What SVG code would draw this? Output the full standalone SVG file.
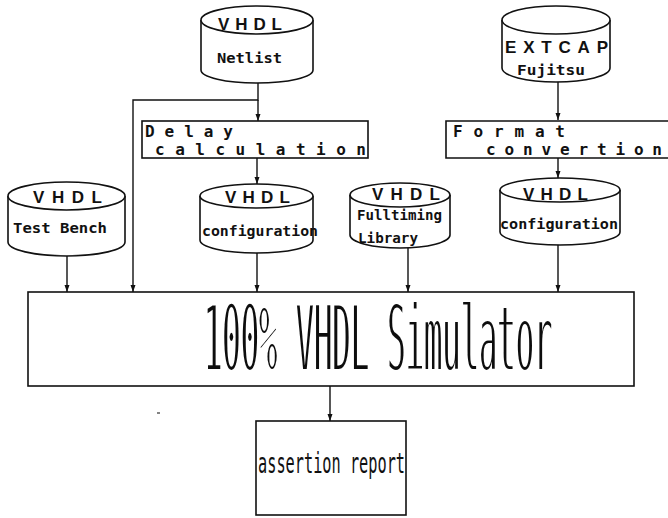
<svg xmlns="http://www.w3.org/2000/svg" width="668" height="518" viewBox="0 0 668 518">
<style>
.shape{fill:#fff;stroke:#111;stroke-width:1.6}
.line{fill:none;stroke:#111;stroke-width:1.4}
.hd{font-family:"Liberation Sans",Arial,sans-serif;font-weight:bold;font-size:17px;fill:#111}
.lb{font-family:"DejaVu Sans Mono","Liberation Mono",monospace;font-weight:bold;font-size:14px;fill:#111}
.mono{font-family:"DejaVu Sans Mono","Liberation Mono",monospace;font-weight:bold;font-size:16px;fill:#111}
.big{font-family:"DejaVu Sans Mono","Liberation Mono",monospace;font-size:92px;fill:#111}
.rep{font-family:"DejaVu Sans Mono","Liberation Mono",monospace;font-size:28px;fill:#111}
</style>
<defs>
<marker id="ah" markerWidth="8" markerHeight="8" refX="7" refY="4" orient="auto" markerUnits="userSpaceOnUse">
<path d="M0,1.5 L7,4 L0,6.5 Z" fill="#111"/>
</marker>
<filter id="thin" x="-5%" y="-20%" width="110%" height="140%">
<feMorphology operator="erode" radius="0 1.8"/>
</filter>
</defs>
<rect width="668" height="518" fill="#fff"/>

<g id="connectors">
<polyline class="line" points="258,83 258,100 133,100 133,292" marker-end="url(#ah)"/>
<line class="line" x1="258" y1="100" x2="258" y2="121" marker-end="url(#ah)"/>
<line class="line" x1="257" y1="158" x2="257" y2="184" marker-end="url(#ah)"/>
<line class="line" x1="257" y1="253" x2="257" y2="292" marker-end="url(#ah)"/>
<line class="line" x1="67" y1="256" x2="67" y2="292" marker-end="url(#ah)"/>
<line class="line" x1="408" y1="248" x2="408" y2="292" marker-end="url(#ah)"/>
<line class="line" x1="558" y1="82" x2="558" y2="120" marker-end="url(#ah)"/>
<line class="line" x1="558" y1="158" x2="558" y2="178" marker-end="url(#ah)"/>
<line class="line" x1="558" y1="245" x2="558" y2="292" marker-end="url(#ah)"/>
<line class="line" x1="330" y1="386" x2="330" y2="421" marker-end="url(#ah)"/>
</g>

<g id="netlist">
<path class="shape" d="M201,20 V70 A56,13 0 0 0 313,70 V20"/>
<ellipse class="shape" cx="257" cy="20" rx="56" ry="14"/>
<text class="hd" x="218" y="30" textLength="64" lengthAdjust="spacing">VHDL</text>
<text class="lb" x="217" y="63" textLength="65" lengthAdjust="spacingAndGlyphs">Netlist</text>
</g>

<g id="extcap">
<path class="shape" d="M502,20 V68 A54,14 0 0 0 610,68 V20"/>
<ellipse class="shape" cx="556" cy="20" rx="54" ry="14"/>
<text class="hd" x="505" y="53" font-size="18" textLength="103" lengthAdjust="spacing">EXTCAP</text>
<text class="lb" x="517" y="75" textLength="68" lengthAdjust="spacingAndGlyphs">Fujitsu</text>
</g>

<g id="delay">
<rect class="shape" x="142" y="121" width="226" height="37"/>
<text class="mono" x="145" y="137" textLength="88" lengthAdjust="spacing">Delay</text>
<text class="mono" x="155" y="155" textLength="211" lengthAdjust="spacing">calculation</text>
</g>

<g id="format">
<path class="shape" d="M668,121 H446 V158 H668"/>
<text class="mono" x="453" y="137" textLength="112" lengthAdjust="spacing">Format</text>
<text class="mono" x="486" y="155" textLength="176" lengthAdjust="spacing">convertion</text>
</g>

<g id="testbench">
<path class="shape" d="M8,196 V242 A58.5,14 0 0 0 125,242 V196"/>
<ellipse class="shape" cx="66.5" cy="196" rx="58.5" ry="14"/>
<text class="hd" x="33" y="203" textLength="69" lengthAdjust="spacing">VHDL</text>
<text class="lb" x="13" y="233" textLength="94" lengthAdjust="spacingAndGlyphs">Test Bench</text>
</g>

<g id="config1">
<path class="shape" d="M200,196 V240 A56.5,13 0 0 0 313,240 V196"/>
<ellipse class="shape" cx="256.5" cy="196" rx="56.5" ry="12"/>
<text class="hd" x="225" y="203" textLength="65" lengthAdjust="spacing">VHDL</text>
<text class="lb" x="202" y="236" textLength="116" lengthAdjust="spacingAndGlyphs">configuration</text>
</g>

<g id="fulltiming">
<path class="shape" d="M350,195 V235 A50,13 0 0 0 450,235 V195"/>
<ellipse class="shape" cx="400" cy="195" rx="50" ry="12"/>
<text class="hd" x="372" y="200" textLength="68" lengthAdjust="spacing">VHDL</text>
<text class="lb" x="357" y="220" font-size="13" textLength="85" lengthAdjust="spacingAndGlyphs">Fulltiming</text>
<text class="lb" x="358" y="243" textLength="60" lengthAdjust="spacingAndGlyphs">Library</text>
</g>

<g id="config2">
<path class="shape" d="M500,190 V232 A60,13 0 0 0 620,232 V190"/>
<ellipse class="shape" cx="560" cy="190" rx="60" ry="12"/>
<text class="hd" x="523" y="200" textLength="65" lengthAdjust="spacing">VHDL</text>
<text class="lb" x="500" y="229" textLength="118" lengthAdjust="spacingAndGlyphs">configuration</text>
</g>

<g id="simulator">
<rect class="shape" x="28" y="292" width="606" height="94"/>
<text class="big" x="0" y="0" transform="translate(204,371) scale(0.331,1)" filter="url(#thin)">100% VHDL Simulator</text>
</g>

<g id="report">
<rect class="shape" x="256" y="421" width="150" height="94"/>
<text class="rep" x="258" y="473" textLength="147" lengthAdjust="spacingAndGlyphs">assertion report</text>
</g>

<line x1="157" y1="413" x2="160" y2="413" stroke="#333" stroke-width="1.2"/>
</svg>
